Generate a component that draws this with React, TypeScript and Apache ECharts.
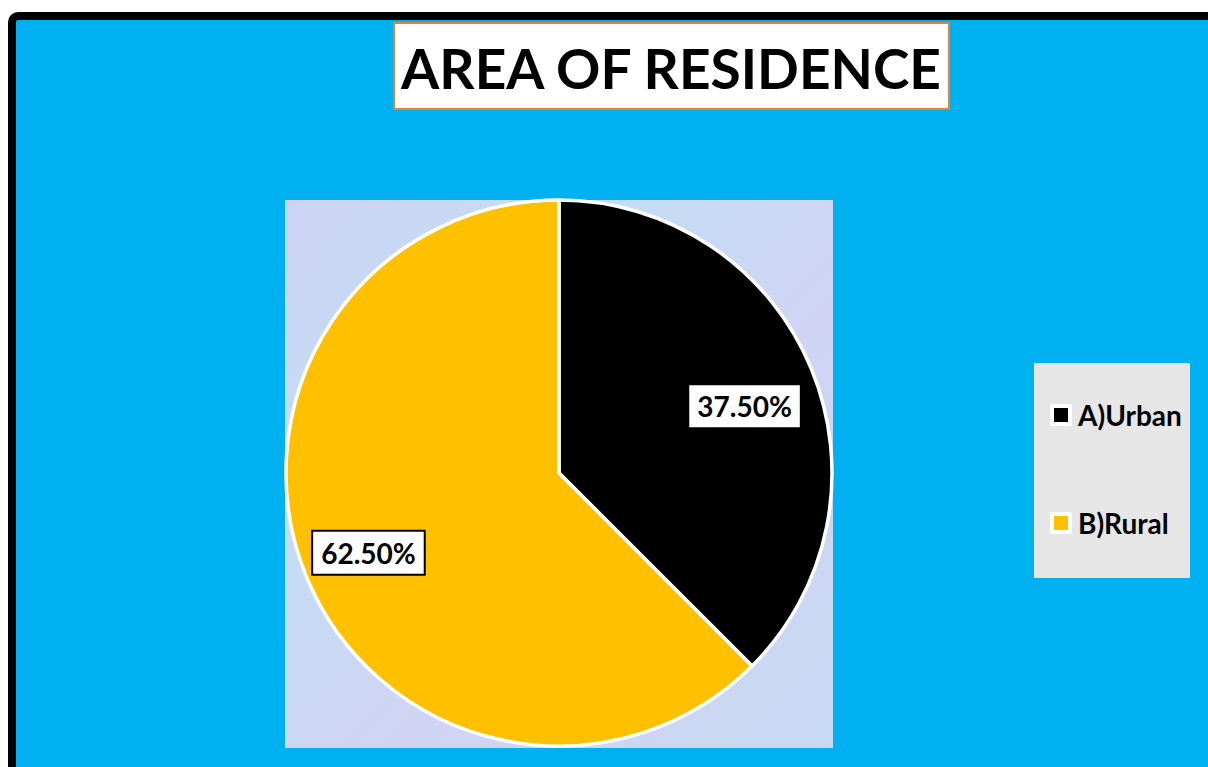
import React, { useEffect, useRef } from "react";
import * as echarts from "echarts";

const categories = ["A)Urban", "B)Rural"];
const values = [37.5, 62.5];
const colors = ["#000000", "#FFC000"];
const titleText = "AREA OF RESIDENCE";

const FONT = "Lato, 'Open Sans', sans-serif";

export default function App() {
  const ref = useRef<HTMLDivElement>(null);
  useEffect(() => {
    if (!ref.current) return;
    const chart = echarts.init(ref.current, null, { renderer: "svg" });
    const data = categories.map((name, i) => ({
      name,
      value: values[i],
      itemStyle: { color: colors[i] },
    }));
    chart.setOption({
      animation: false,
      graphic: [
        {
          type: "rect",
          z: 0,
          shape: { x: 12, y: 16, width: 1230, height: 790, r: 6 },
          style: { fill: "#00B0F0", stroke: "#000000", lineWidth: 8 },
        },
        {
          type: "rect",
          z: 0,
          shape: { x: 394, y: 23, width: 555, height: 86 },
          style: { fill: "#FFFFFF", stroke: "#ED7D31", lineWidth: 2 },
        },
        {
          type: "text",
          z: 1,
          x: 671,
          y: 68,
          style: {
            text: titleText,
            fill: "#000000",
            font: `bold 55px ${FONT}`,
            textAlign: "center",
            textVerticalAlign: "middle",
          },
        },
        {
          type: "rect",
          z: 0,
          shape: { x: 285, y: 200, width: 548, height: 548 },
          style: {
            fill: {
              type: "linear",
              x: 0,
              y: 0,
              x2: 1,
              y2: 1,
              colorStops: [
                { offset: 0, color: "#CCD3F2" },
                { offset: 0.3, color: "#C4DDF4" },
                { offset: 0.6, color: "#D0D4F2" },
                { offset: 1, color: "#C8DAF3" },
              ],
            },
          },
        },
        {
          type: "rect",
          z: 0,
          shape: { x: 1034, y: 363, width: 156, height: 215 },
          style: { fill: "#E6E6E6" },
        },
      ],
      legend: {
        orient: "vertical",
        left: 1045,
        top: 396,
        itemGap: 80,
        itemWidth: 18,
        itemHeight: 18,
        icon: "rect",
        itemStyle: { borderColor: "#FFFFFF", borderWidth: 4 },
        textStyle: {
          fontFamily: FONT,
          fontWeight: "bold",
          fontSize: 28,
          color: "#000000",
          lineHeight: 26,
          padding: [0, 0, 0, 3],
        },
        data: categories,
      },
      series: [
        {
          type: "pie",
          z: 5,
          center: [559, 473],
          radius: [0, 273],
          startAngle: 90,
          clockwise: true,
          silent: true,
          data,
          itemStyle: { borderColor: "#FFFFFF", borderWidth: 3.5 },
          label: { show: false },
          labelLine: { show: false },
        },
        {
          type: "pie",
          z: 6,
          center: [559, 473],
          radius: [190, 210],
          startAngle: 90,
          clockwise: true,
          silent: true,
          legendHoverLink: false,
          data: categories.map((name, i) => ({
            name,
            value: values[i],
            itemStyle: { color: "rgba(0,0,0,0)" },
            label: i === 0 ? { offset: [-2, 11] } : { offset: [-3, 2] },
          })),
          itemStyle: { borderWidth: 0 },
          label: {
            show: true,
            position: "inside",
            formatter: (p: any) => `${p.value.toFixed(2)}%`,
            fontFamily: FONT,
            fontWeight: "bold",
            fontSize: 28,
            color: "#000000",
            backgroundColor: "#FFFFFF",
            borderColor: "#000000",
            borderWidth: 2,
            padding: [7, 8, 6, 8],
            lineHeight: 29,
          },
          labelLine: { show: false },
        },
      ],
    });
    return () => chart.dispose();
  }, []);
  return (
    <div
      ref={ref}
      style={{ position: "absolute", left: 0, top: 0, width: 1208, height: 767 }}
    />
  );
}
